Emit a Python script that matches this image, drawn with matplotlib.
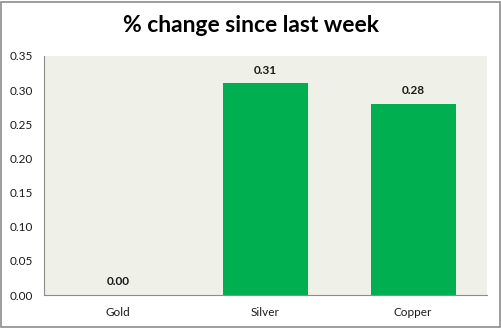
import matplotlib.pyplot as plt
from matplotlib.patches import Rectangle

# Weekly change per metal
metals = ["Gold", "Silver", "Copper"]
change = [0.00, 0.31, 0.28]
yticks = [0.00, 0.05, 0.10, 0.15, 0.20, 0.25, 0.30, 0.35]

plt.rcParams['font.family'] = ['Lato', 'DejaVu Sans']

fig = plt.figure(figsize=(5.02, 3.28), dpi=100)
fig.patch.set_facecolor("white")
# grey frame round the whole chart
fig.patches.append(Rectangle((0.002, 0.003), 0.995, 0.992, transform=fig.transFigure,
                             fill=False, edgecolor="#8c8c8c", lw=1.2))

ax = fig.add_axes([44/502, 1 - 295/328, (487-44)/502, (295-56)/328])
ax.set_facecolor("#eff1e8")

x = range(len(metals))
bars = ax.bar(x, change, width=0.575, color="#00b050")
for b, v in zip(bars, change):
    ax.text(b.get_x() + b.get_width()/2, v + 0.011, f"{v:.2f}",
            ha="center", va="bottom", fontsize=8.5, fontweight="bold", color="#1a1a1a")

ax.set_xlim(-0.5, 2.5)
ax.set_ylim(0, 0.35)
ax.set_yticks(yticks)
ax.set_yticklabels([f"{t:.2f}" for t in yticks], fontsize=8.5, color="#1a1a1a")
ax.set_xticks(list(x))
ax.set_xticklabels(metals, fontsize=8.5, color="#1a1a1a")
ax.tick_params(axis="both", length=0, pad=8)
ax.tick_params(axis="x", pad=9)

for side in ["top", "right"]:
    ax.spines[side].set_visible(False)
ax.spines["left"].set_color("#8c8c8c")
ax.spines["bottom"].set_color("#8c8c8c")

fig.text(0.5, 1 - 25/328, "% change since last week", ha="center", va="center",
         fontsize=16.5, fontweight="bold", color="black")

fig.savefig("out.png", dpi=100)
